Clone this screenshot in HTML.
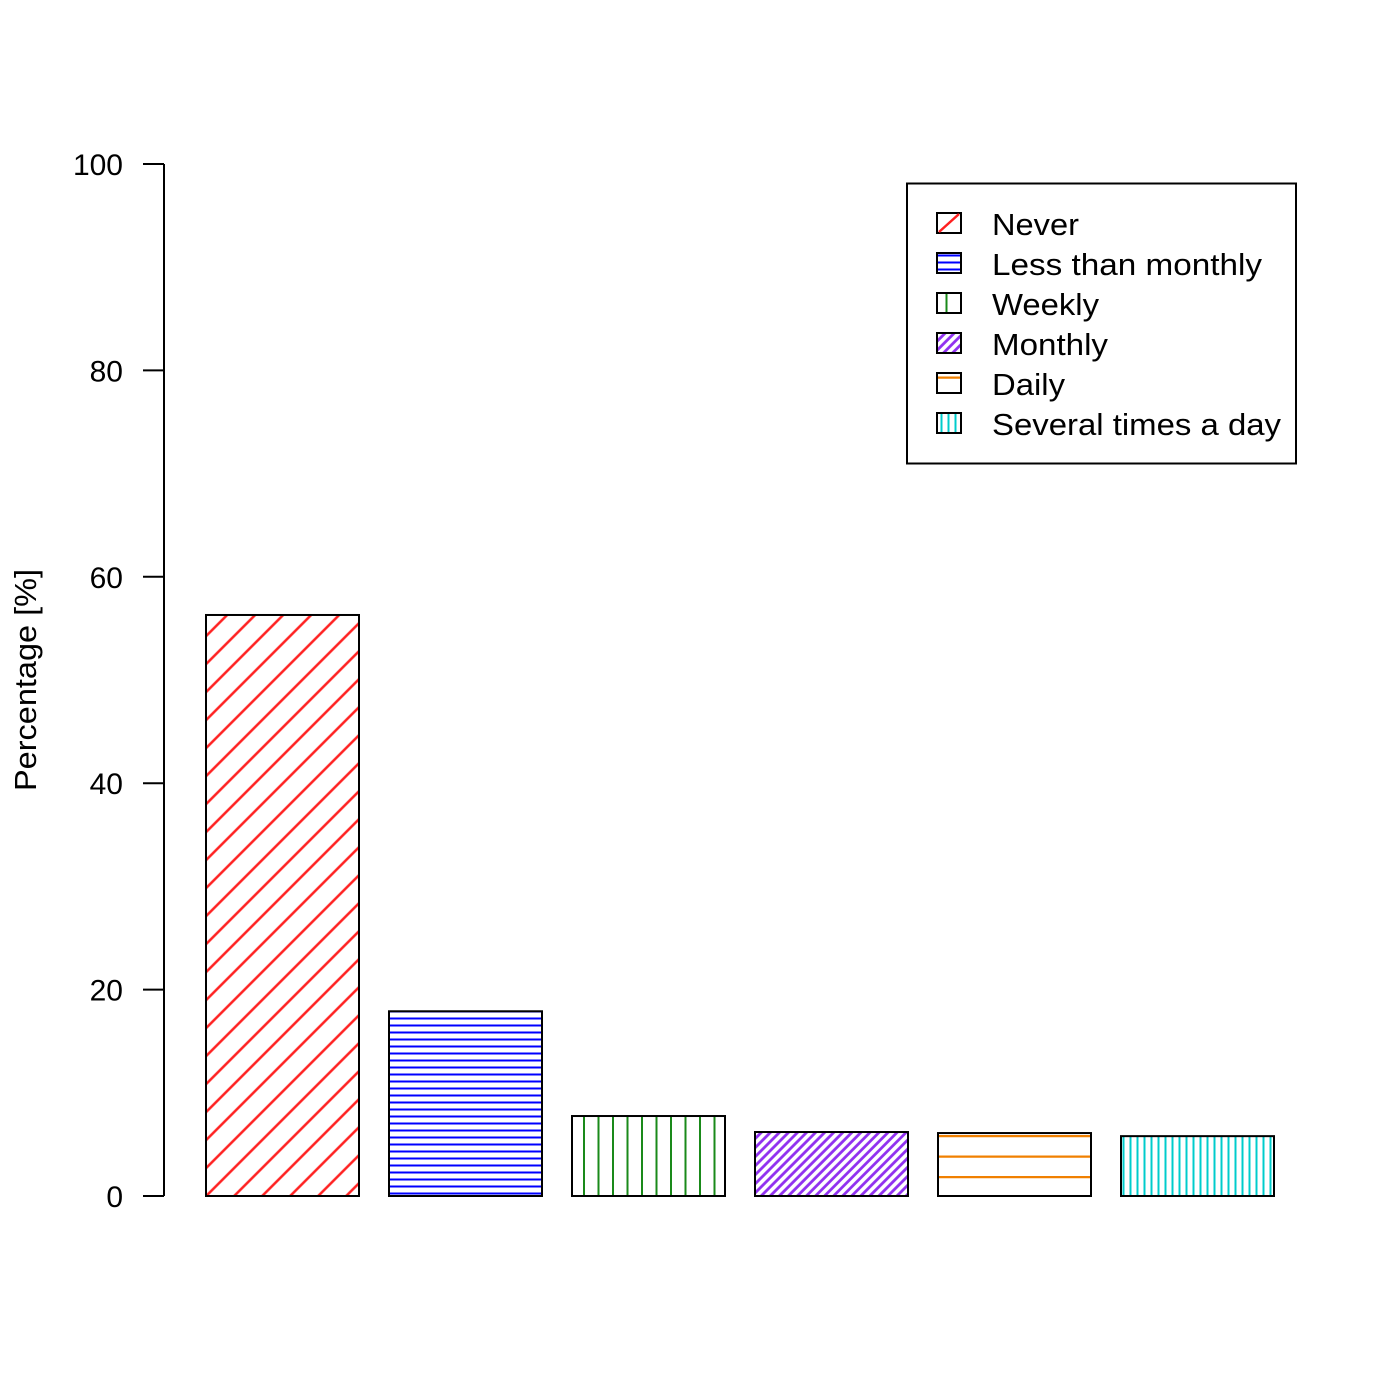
<!DOCTYPE html>
<html><head><meta charset="utf-8"><style>
html,body{margin:0;padding:0;background:#fff;}
svg{display:block;font-family:"Liberation Sans",Arial,sans-serif;}
</style></head><body>
<svg id="chart" width="1400" height="1400" viewBox="0 0 1400 1400">
<defs>
<pattern id="p0" patternUnits="userSpaceOnUse" width="19.8" height="20" patternTransform="rotate(45)"><line x1="1.5" y1="0" x2="1.5" y2="20" stroke="#ff2020" stroke-width="2.5"/></pattern>
<pattern id="p1" patternUnits="userSpaceOnUse" width="10" height="7"><line x1="0" y1="3.5" x2="10" y2="3.5" stroke="#0000ff" stroke-width="2"/></pattern>
<pattern id="p2" patternUnits="userSpaceOnUse" width="14.5" height="10" x="573"><line x1="11" y1="0" x2="11" y2="10" stroke="#1a8a1a" stroke-width="2"/></pattern>
<pattern id="p3" patternUnits="userSpaceOnUse" width="6.4" height="7" patternTransform="rotate(45)"><line x1="1.5" y1="0" x2="1.5" y2="7" stroke="#9030f0" stroke-width="2.8"/></pattern>
<pattern id="p4" patternUnits="userSpaceOnUse" width="10" height="20.5" y="1135"><line x1="0" y1="1" x2="10" y2="1" stroke="#f08000" stroke-width="2.5"/></pattern>
<pattern id="p5" patternUnits="userSpaceOnUse" width="7" height="10"><line x1="3.5" y1="0" x2="3.5" y2="10" stroke="#00cccc" stroke-width="2"/></pattern>
</defs>
<g id="axis"></g>
<g id="bars"></g>
<text transform="translate(36,680) rotate(-90)" text-anchor="middle" font-size="31" textLength="222" lengthAdjust="spacingAndGlyphs">Percentage [%]</text>
<g id="legend">
<rect x="907" y="183.5" width="389" height="280" fill="#fff" stroke="#000" stroke-width="2"/>
</g>
</svg>
<script>
const categories = ["Never","Less than monthly","Weekly","Monthly","Daily","Several times a day"];
const values = [56.3, 17.9, 7.75, 6.2, 6.1, 5.8];
const ticks = [0,20,40,60,80,100];
const NS="http://www.w3.org/2000/svg";
const y0=1196, y100=164;
function yScale(v){return y0-(y0-y100)*v/100;}
function xScale(i){return 206+i*183;}
const barW=153;
function mk(tag,attrs,parent){const e=document.createElementNS(NS,tag);for(const k in attrs)e.setAttribute(k,attrs[k]);parent.appendChild(e);return e;}
const axis=document.getElementById('axis');
const al=mk('line',{x1:164,x2:164,y1:yScale(0),y2:yScale(100),stroke:'#000','stroke-width':2},axis);


ticks.forEach(t=>{
 const l=mk('line',{x1:143,x2:164,y1:yScale(t),y2:yScale(t),stroke:'#000','stroke-width':2},axis);
 
 
 const tx=mk('text',{x:123,y:yScale(t)+11,'text-anchor':'end','font-size':30},axis);
 tx.textContent=t;
 
 
});
const bars=document.getElementById('bars');
values.forEach((v,i)=>{
 const r=mk('rect',{x:xScale(i),y:yScale(v),width:barW,height:yScale(0)-yScale(v),fill:'url(#p'+i+')',stroke:'#000','stroke-width':2},bars);
 
 
});
const lg=document.getElementById('legend');
const textLens=[87,270,107,116,73,289];
categories.forEach((c,i)=>{
 const yy=213+i*40;
 const sw=mk('rect',{x:937,y:yy,width:24,height:20,fill:i===0?'#fff':'url(#p'+i+')',stroke:'#000','stroke-width':2},lg);
 
 
 if(i===0){
  const dl=mk('line',{x1:939,y1:yy+19,x2:959,y2:yy+1,stroke:'#ff2020','stroke-width':2.5},lg);
  
  
 }
 const t=mk('text',{x:992,y:yy+22,'font-size':31,textLength:textLens[i],lengthAdjust:'spacingAndGlyphs'},lg);
 t.textContent=c;
 
 
});
</script>
</body></html>
